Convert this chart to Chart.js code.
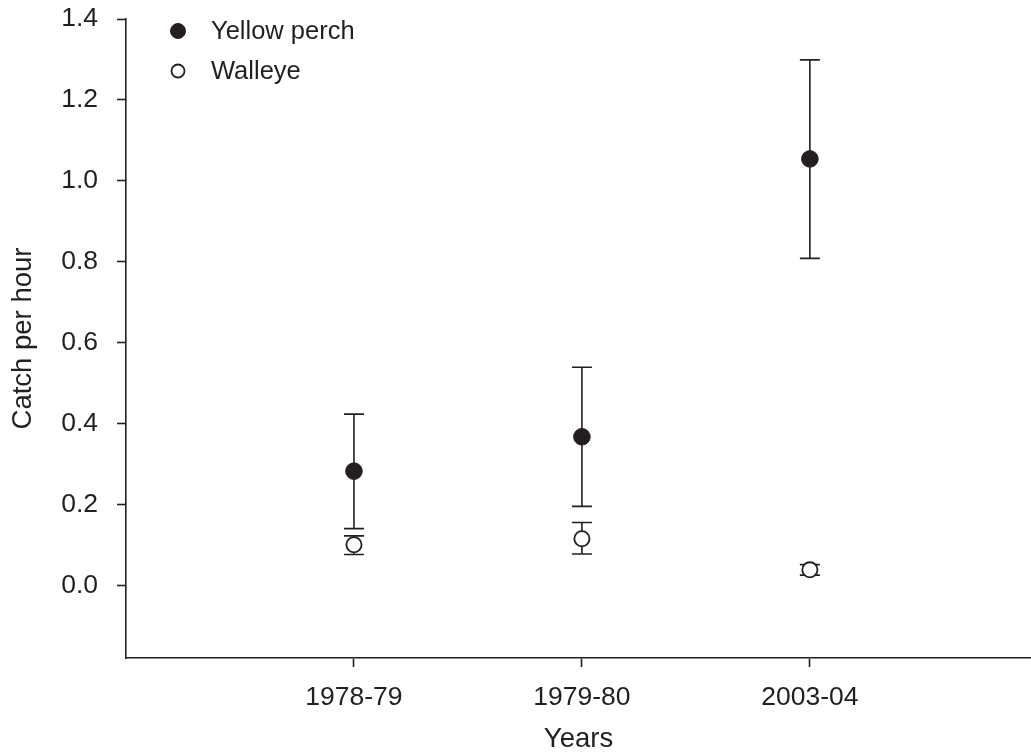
<!DOCTYPE html>
<html>
<head>
<meta charset="utf-8">
<script src="https://cdn.jsdelivr.net/npm/chart.js@4/dist/chart.umd.min.js"></script>
<style>
    html, body { margin: 0; padding: 0; background: #ffffff; }
    canvas { display: block; }
</style>
</head>
<body>
<canvas id="cpueChart" width="1031" height="756"></canvas>
<script>
// Catch per hour by sampling season
const years = ['1978-79', '1979-80', '2003-04'];
const yTicks = [0, 0.2, 0.4, 0.6, 0.8, 1.0, 1.2, 1.4];

const perchMean = [0.282, 0.367, 1.054];
const perchLow  = [0.140, 0.195, 0.808];
const perchHigh = [0.423, 0.539, 1.299];

const walleyeMean = [0.100, 0.115, 0.038];
const walleyeLow  = [0.076, 0.077, 0.025];
const walleyeHigh = [0.122, 0.155, 0.051];

const INK = '#231f20';
const FONT = '"Liberation Sans", Arial, sans-serif';

function toPoints(values) {
    return values.map(function(v, i) { return { x: i + 1, y: v }; });
}

// ------------------------------------------------------------
// Error bars, drawn under the markers
// ------------------------------------------------------------
const errorBars = {
    id: 'errorBars',
    beforeDatasetsDraw: function(chart) {
        const ctx = chart.ctx;
        const xs = chart.scales.x;
        const ys = chart.scales.y;
        const bars = [[perchLow, perchHigh], [walleyeLow, walleyeHigh]];
        ctx.save();
        ctx.strokeStyle = INK;
        ctx.lineWidth = 1.6;
        bars.forEach(function(pair) {
            pair[0].forEach(function(lo, i) {
                const px = xs.getPixelForValue(i + 1);
                const yLo = ys.getPixelForValue(lo);
                const yHi = ys.getPixelForValue(pair[1][i]);
                ctx.beginPath();
                ctx.moveTo(px, yLo);
                ctx.lineTo(px, yHi);
                ctx.moveTo(px - 10, yLo);
                ctx.lineTo(px + 10, yLo);
                ctx.moveTo(px - 10, yHi);
                ctx.lineTo(px + 10, yHi);
                ctx.stroke();
            });
        });
        ctx.restore();
    }
};

// ------------------------------------------------------------
// Legend in the upper left corner of the plot
// ------------------------------------------------------------
const cornerLegend = {
    id: 'cornerLegend',
    afterDraw: function(chart) {
        const ctx = chart.ctx;
        const area = chart.chartArea;
        const mx = area.left + 52;
        ctx.save();
        ctx.font = '25.5px ' + FONT;
        ctx.textBaseline = 'middle';
        chart.data.datasets.forEach(function(ds, i) {
            const my = area.top + 12 + i * 40;
            ctx.beginPath();
            ctx.arc(mx, my, ds.legendRadius, 0, Math.PI * 2);
            ctx.fillStyle = ds.backgroundColor;
            ctx.fill();
            ctx.lineWidth = ds.borderWidth;
            ctx.strokeStyle = ds.borderColor;
            ctx.stroke();
            ctx.fillStyle = INK;
            ctx.fillText(ds.label, mx + 33, my + 1);
        });
        ctx.restore();
    }
};

// axes keep their own size; no extra room for edge labels
function fixX(scale) {
    scale.height = 98;
    scale.paddingLeft = 0;
    scale.paddingRight = 0;
}
function fixY(scale) {
    scale.width = 126;
    scale.paddingTop = 0;
    scale.paddingBottom = 0;
}

const ctx = document.getElementById('cpueChart').getContext('2d');
new Chart(ctx, {
    type: 'scatter',
    data: {
        datasets: [{
            label: 'Yellow perch',
            data: toPoints(perchMean),
            backgroundColor: INK,
            borderColor: INK,
            borderWidth: 1,
            pointRadius: 8.3,
            legendRadius: 7.5
        }, {
            label: 'Walleye',
            data: toPoints(walleyeMean),
            backgroundColor: '#ffffff',
            borderColor: INK,
            borderWidth: 1.8,
            pointRadius: 7.6,
            legendRadius: 6.5
        }]
    },
    options: {
        responsive: false,
        animation: false,
        devicePixelRatio: 1,
        layout: {
            autoPadding: false,
            padding: { top: 19, right: 0, bottom: 0, left: 0 }
        },
        plugins: {
            legend: { display: false },
            tooltip: { enabled: false }
        },
        scales: {
            x: {
                type: 'linear',
                min: 0,
                max: 3.97,
                afterBuildTicks: function(scale) {
                    scale.ticks = years.map(function(y, i) { return { value: i + 1 }; });
                },
                afterFit: fixX,
                border: { display: true, color: INK, width: 1.6 },
                grid: { drawOnChartArea: false, drawTicks: true, tickLength: 9, tickColor: INK, tickWidth: 1.6 },
                ticks: {
                    color: INK,
                    padding: 15,
                    font: { family: FONT, size: 26.5 },
                    callback: function(value) { return years[value - 1]; }
                },
                title: {
                    display: true,
                    text: 'Years',
                    color: INK,
                    padding: 0,
                    font: { family: FONT, size: 27.5 }
                }
            },
            y: {
                min: -0.18,
                max: 1.4,
                afterBuildTicks: function(scale) {
                    scale.ticks = yTicks.map(function(v) { return { value: v }; });
                },
                afterFit: fixY,
                border: { display: true, color: INK, width: 1.6 },
                grid: { drawOnChartArea: false, drawTicks: true, tickLength: 9, tickColor: INK, tickWidth: 1.6 },
                ticks: {
                    color: INK,
                    padding: 19,
                    font: { family: FONT, size: 26.5 },
                    callback: function(value) { return value.toFixed(1); }
                },
                title: {
                    display: true,
                    text: 'Catch per hour',
                    color: INK,
                    padding: { top: 7, bottom: 0 },
                    font: { family: FONT, size: 27.5 }
                }
            }
        }
    },
    plugins: [errorBars, cornerLegend]
});
</script>
</body>
</html>
